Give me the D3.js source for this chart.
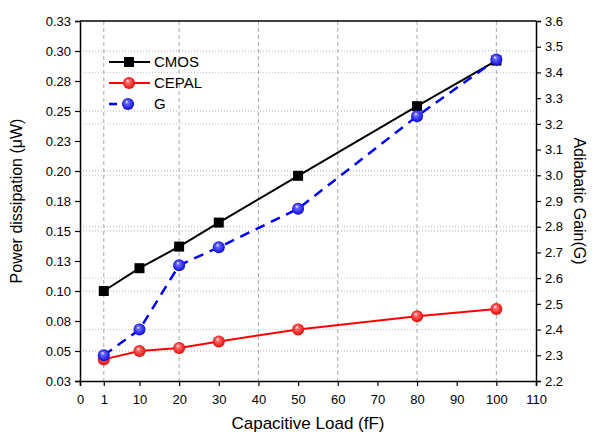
<!DOCTYPE html>
<html>
<head>
<meta charset="utf-8">
<script src="https://cdn.jsdelivr.net/npm/d3@7"></script>
<style>
    body { margin: 0; background: #fff; }
    text { font-family: Arial, "Liberation Sans", sans-serif; fill: #000; }
</style>
</head>
<body>
<div id="chart"></div>
<script>
// capacitive load (fF)
let loads = [1, 10, 20, 30, 50, 80, 100]
// power dissipation (uW)
let cmosPower = [0.100, 0.119, 0.137, 0.157, 0.196, 0.254, 0.292]
let cepalPower = [0.043, 0.050, 0.0525, 0.058, 0.068, 0.079, 0.085]
// adiabatic gain
let gain = [2.30, 2.40, 2.65, 2.72, 2.87, 3.23, 3.45]

// tick values and labels
let xTicks = [-5, 1, 10, 20, 30, 40, 50, 60, 70, 80, 90, 100, 110]
let xTickLabels = ["0", "1", "10", "20", "30", "40", "50", "60", "70", "80", "90", "100", "110"]
let xGrid = [1, 20, 40, 60, 80, 100]
let leftTicks = [0.025, 0.05, 0.075, 0.1, 0.125, 0.15, 0.175, 0.2, 0.225, 0.25, 0.275, 0.3, 0.325]
let leftTickLabels = ["0.03", "0.05", "0.08", "0.10", "0.13", "0.15", "0.18", "0.20", "0.23", "0.25", "0.28", "0.30", "0.33"]
let leftGrid = [0.05, 0.1, 0.15, 0.2, 0.25, 0.3]
let rightTicks = [2.2, 2.3, 2.4, 2.5, 2.6, 2.7, 2.8, 2.9, 3.0, 3.1, 3.2, 3.3, 3.4, 3.5, 3.6]
let rightGrid = [2.4, 2.6, 2.8, 3.0, 3.2, 3.4]

let width = 594, height = 434
let margin = {top: 21, right: 58, bottom: 53, left: 80}

let svg = d3.select("#chart").append("svg")
    .attr("width", width)
    .attr("height", height)

// sphere-like gradients for the round markers
let defs = svg.append("defs")
function sphere(id, base, light) {
    let g = defs.append("radialGradient")
        .attr("id", id)
        .attr("cx", "50%").attr("cy", "50%").attr("r", "55%")
        .attr("fx", "38%").attr("fy", "30%")
    g.append("stop").attr("offset", "0%").attr("stop-color", "#fff")
    g.append("stop").attr("offset", "25%").attr("stop-color", light)
    g.append("stop").attr("offset", "100%").attr("stop-color", base)
}
sphere("redBall", "#e00000", "#ff7070")
sphere("blueBall", "#0000d8", "#6a6aff")

// scales
let x = d3.scaleLinear().domain([-5, 110]).range([margin.left, width - margin.right])
let yLeft = d3.scaleLinear().domain([0.025, 0.325]).range([height - margin.bottom, margin.top])
let yRight = d3.scaleLinear().domain([2.2, 3.6]).range([height - margin.bottom, margin.top])

let plot = svg.append("g")

// grid lines
plot.selectAll(".hgridL")
    .data(leftGrid)
    .enter()
    .append("line")
    .attr("x1", margin.left).attr("x2", width - margin.right)
    .attr("y1", d => yLeft(d)).attr("y2", d => yLeft(d))
    .attr("stroke", "#b0b0b0").attr("stroke-width", 1).attr("stroke-dasharray", "1,2")

plot.selectAll(".hgridR")
    .data(rightGrid)
    .enter()
    .append("line")
    .attr("x1", margin.left).attr("x2", width - margin.right)
    .attr("y1", d => yRight(d)).attr("y2", d => yRight(d))
    .attr("stroke", "#c4c4c4").attr("stroke-width", 1).attr("stroke-dasharray", "1,2")

plot.selectAll(".vgrid")
    .data(xGrid)
    .enter()
    .append("line")
    .attr("x1", d => x(d)).attr("x2", d => x(d))
    .attr("y1", margin.top).attr("y2", height - margin.bottom)
    .attr("stroke", "#a8a8a8").attr("stroke-width", 1).attr("stroke-dasharray", "4,3")

// axes
let xAxis = d3.axisBottom(x)
    .tickValues(xTicks)
    .tickFormat((d, i) => xTickLabels[i])
    .tickSize(5)
    .tickPadding(9)

let leftAxis = d3.axisLeft(yLeft)
    .tickValues(leftTicks)
    .tickFormat((d, i) => leftTickLabels[i])
    .tickSize(5)
    .tickPadding(4)

let rightAxis = d3.axisRight(yRight)
    .tickValues(rightTicks)
    .tickFormat(d3.format(".1f"))
    .tickSize(5)
    .tickPadding(4)

function styleAxis(g) {
    g.select(".domain").attr("stroke", "#000").attr("stroke-width", 1.5)
    g.selectAll(".tick line").attr("stroke", "#000").attr("stroke-width", 1.2)
    g.selectAll(".tick text").attr("font-size", 13).attr("font-family", "Arial, 'Liberation Sans', sans-serif")
}

svg.append("g")
    .attr("transform", `translate(0, ${height - margin.bottom})`)
    .call(xAxis)
    .call(styleAxis)

svg.append("g")
    .attr("transform", `translate(${margin.left}, 0)`)
    .call(leftAxis)
    .call(styleAxis)

svg.append("g")
    .attr("transform", `translate(${width - margin.right}, 0)`)
    .call(rightAxis)
    .call(styleAxis)

// top border
svg.append("line")
    .attr("x1", margin.left).attr("x2", width - margin.right)
    .attr("y1", margin.top).attr("y2", margin.top)
    .attr("stroke", "#000").attr("stroke-width", 1.5)

// axis titles
svg.append("text")
    .attr("transform", `translate(22, ${(margin.top + height - margin.bottom) / 2}) rotate(-90)`)
    .attr("text-anchor", "middle")
    .attr("font-size", 16)
    .text("Power dissipation (\u03bcW)")

svg.append("text")
    .attr("transform", `translate(574, ${(margin.top + height - margin.bottom) / 2}) rotate(90)`)
    .attr("text-anchor", "middle")
    .attr("font-size", 16)
    .text("Adiabatic Gain(G)")

svg.append("text")
    .attr("x", (margin.left + width - margin.right) / 2)
    .attr("y", 429)
    .attr("text-anchor", "middle")
    .attr("font-size", 17)
    .text("Capacitive Load (fF)")

// series
let cmosData = loads.map((d, i) => ({x: d, y: cmosPower[i]}))
let cepalData = loads.map((d, i) => ({x: d, y: cepalPower[i]}))
let gainData = loads.map((d, i) => ({x: d, y: gain[i]}))

let lineLeft = d3.line().x(d => x(d.x)).y(d => yLeft(d.y))
let lineRight = d3.line().x(d => x(d.x)).y(d => yRight(d.y))

plot.append("path")
    .datum(cepalData)
    .attr("d", lineLeft)
    .attr("fill", "none").attr("stroke", "#ff0000").attr("stroke-width", 2)

plot.append("path")
    .datum(cmosData)
    .attr("d", lineLeft)
    .attr("fill", "none").attr("stroke", "#000").attr("stroke-width", 2)

plot.append("path")
    .datum(gainData)
    .attr("d", lineRight)
    .attr("fill", "none").attr("stroke", "#0000ff").attr("stroke-width", 2.5)
    .attr("stroke-dasharray", "10,7")

plot.selectAll(".cepal")
    .data(cepalData)
    .enter()
    .append("circle")
    .attr("cx", d => x(d.x)).attr("cy", d => yLeft(d.y))
    .attr("r", 6)
    .attr("fill", "url(#redBall)")

plot.selectAll(".cmos")
    .data(cmosData)
    .enter()
    .append("rect")
    .attr("x", d => x(d.x) - 5).attr("y", d => yLeft(d.y) - 5)
    .attr("width", 10).attr("height", 10)
    .attr("fill", "#000")

plot.selectAll(".gain")
    .data(gainData)
    .enter()
    .append("circle")
    .attr("cx", d => x(d.x)).attr("cy", d => yRight(d.y))
    .attr("r", 6)
    .attr("fill", "url(#blueBall)")

// legend
let legend = svg.append("g").attr("transform", "translate(109, 62)")

legend.append("line").attr("x1", 0).attr("x2", 41).attr("y1", 0).attr("y2", 0)
    .attr("stroke", "#000").attr("stroke-width", 2)
legend.append("rect").attr("x", 15).attr("y", -5).attr("width", 10).attr("height", 10).attr("fill", "#000")
legend.append("text").attr("x", 45).attr("y", 5).attr("font-size", 15).text("CMOS")

legend.append("line").attr("x1", 0).attr("x2", 41).attr("y1", 21).attr("y2", 21)
    .attr("stroke", "#ff0000").attr("stroke-width", 2)
legend.append("circle").attr("cx", 20).attr("cy", 21).attr("r", 6).attr("fill", "url(#redBall)")
legend.append("text").attr("x", 45).attr("y", 26).attr("font-size", 15).text("CEPAL")

legend.append("line").attr("x1", 0).attr("x2", 34).attr("y1", 42).attr("y2", 42)
    .attr("stroke", "#0000ff").attr("stroke-width", 2.5).attr("stroke-dasharray", "8,9")
legend.append("circle").attr("cx", 19).attr("cy", 42).attr("r", 6).attr("fill", "url(#blueBall)")
legend.append("text").attr("x", 45).attr("y", 47).attr("font-size", 15).text("G")
</script>
</body>
</html>
